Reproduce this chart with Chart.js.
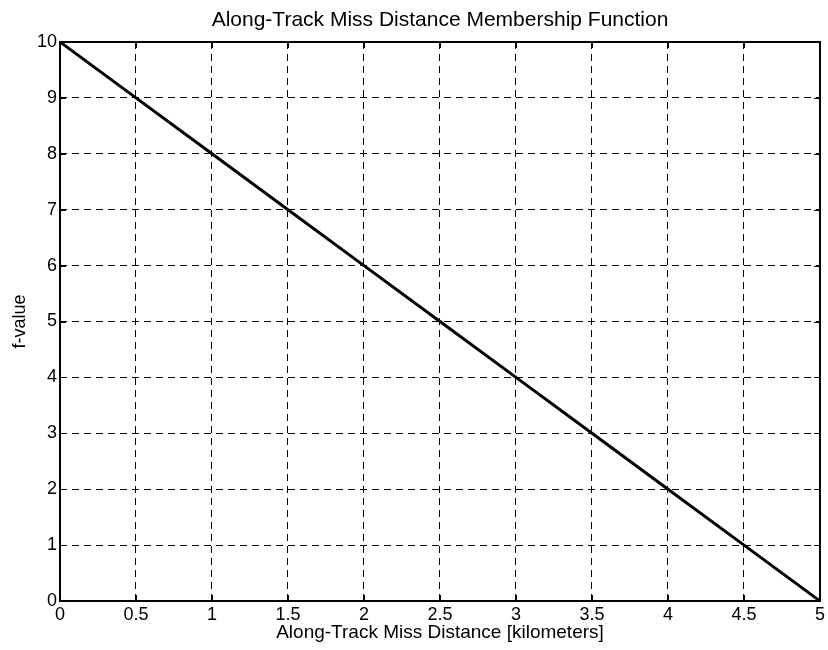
<!DOCTYPE html>
<html>
<head>
<meta charset="utf-8">
<script src="https://cdn.jsdelivr.net/npm/chart.js@4"></script>
<style>
  html, body { margin: 0; padding: 0; background: #fff; }
  #wrap { width: 828px; height: 650px; }
</style>
</head>
<body>
<div id="wrap"><canvas id="chart" width="828" height="650"></canvas></div>
<script>
'use strict';

// values
let missDistance = [0, 0.5, 1, 1.5, 2, 2.5, 3, 3.5, 4, 4.5, 5];
let fValue = [10, 9, 8, 7, 6, 5, 4, 3, 2, 1, 0];
let xTicks = [0, 0.5, 1, 1.5, 2, 2.5, 3, 3.5, 4, 4.5, 5];
let yTicks = [0, 1, 2, 3, 4, 5, 6, 7, 8, 9, 10];

let canvasElem = document.getElementById('chart');
let fontFamily = 'Arial, "Liberation Sans", Helvetica, sans-serif';

// matlab style box + inward ticks
const boxPlugin = {
  id: 'boxPlugin',
  afterDraw(chart) {
    const { ctx, chartArea, scales } = chart;
    const { left, right, top, bottom } = chartArea;
    ctx.save();
    ctx.strokeStyle = '#000';
    ctx.lineWidth = 1;
    ctx.beginPath();
    xTicks.forEach(v => {
      const px = Math.round(scales.x.getPixelForValue(v)) + 0.5;
      ctx.moveTo(px, bottom); ctx.lineTo(px, bottom - 6);
      ctx.moveTo(px, top); ctx.lineTo(px, top + 6);
    });
    yTicks.forEach(v => {
      const py = Math.round(scales.y.getPixelForValue(v)) + 0.5;
      ctx.moveTo(left, py); ctx.lineTo(left + 6, py);
      ctx.moveTo(right, py); ctx.lineTo(right - 6, py);
    });
    ctx.stroke();
    ctx.lineWidth = 2;
    ctx.strokeRect(left, top, right - left, bottom - top);
    ctx.restore();
  }
};

function renderChart() {
  const points = missDistance.map((x, i) => ({ x: x, y: fValue[i] }));
  const data = {
    datasets: [
      {
        label: 'f-value',
        data: points,
        borderColor: '#000',
        borderWidth: 3,
        pointRadius: 0,
        fill: false,
        tension: 0
      }
    ]
  };
  let config = {
    type: 'line',
    data: data,
    options: {
      responsive: false,
      animation: false,
      layout: { padding: { top: 0, right: 7, bottom: 0, left: 0 } },
      plugins: {
        legend: { display: false },
        tooltip: { enabled: false },
        title: {
          display: true,
          fullSize: false,
          text: 'Along-Track Miss Distance Membership Function',
          color: '#000',
          font: { family: fontFamily, size: 21, weight: 'normal' },
          padding: { top: 7.4, bottom: 9.4 }
        }
      },
      scales: {
        x: {
          type: 'linear',
          min: 0,
          max: 5,
          afterBuildTicks: axis => { axis.ticks = xTicks.map(v => ({ value: v })); },
          afterFit: axis => { axis.height = 49; },
          ticks: {
            color: '#000',
            padding: 3,
            maxRotation: 0,
            autoSkip: false,
            font: { family: fontFamily, size: 18 },
            callback: v => String(v)
          },
          grid: {
            color: '#000',
            lineWidth: 1,
            drawTicks: false
          },
          border: { display: false, dash: [7, 5] },
          title: {
            display: true,
            text: 'Along-Track Miss Distance [kilometers]',
            color: '#000',
            font: { family: fontFamily, size: 19 },
            padding: { top: 0, bottom: 5.6 }
          }
        },
        y: {
          min: 0,
          max: 10,
          afterBuildTicks: axis => { axis.ticks = yTicks.map(v => ({ value: v })); },
          afterFit: axis => { axis.width = 60; },
          ticks: {
            color: '#000',
            padding: 3,
            autoSkip: false,
            font: { family: fontFamily, size: 18 }
          },
          grid: {
            color: '#000',
            lineWidth: 1,
            drawTicks: false
          },
          border: { display: false, dash: [7, 5] },
          title: {
            display: true,
            text: 'f-value',
            color: '#000',
            font: { family: fontFamily, size: 18 },
            padding: { top: 9.5, bottom: 0 }
          }
        }
      }
    },
    plugins: [boxPlugin]
  };
  let myChart = new Chart(canvasElem, config);
}

renderChart();
</script>
</body>
</html>
